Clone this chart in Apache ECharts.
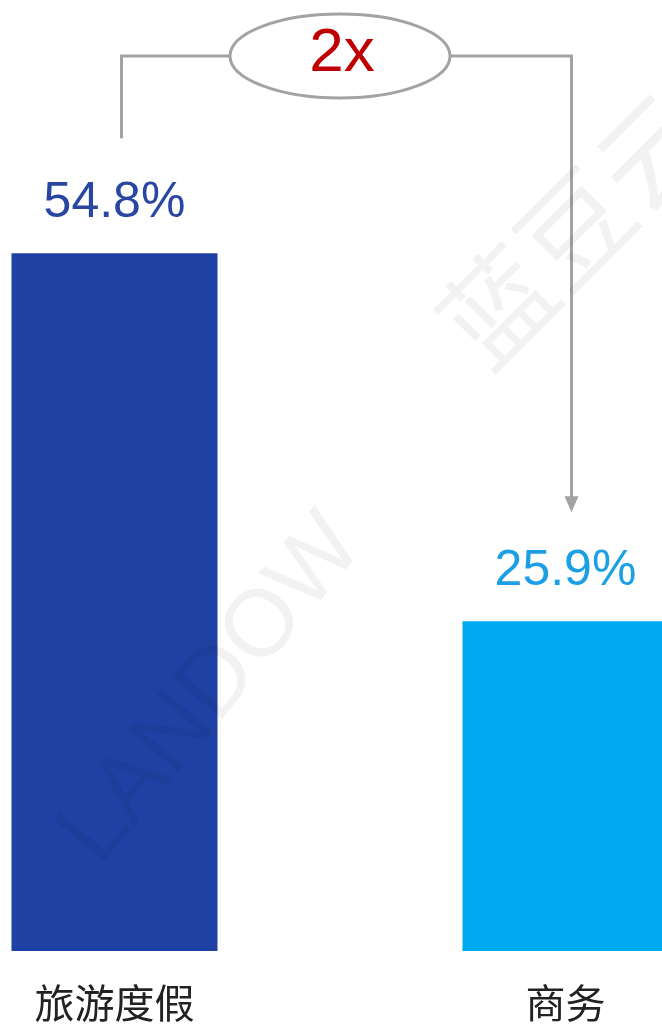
<!DOCTYPE html>
<html>
<head>
<meta charset="utf-8">
<script src="https://cdn.jsdelivr.net/npm/echarts@6/dist/echarts.min.js"></script>
<style>
  html, body { margin: 0; padding: 0; background: #fff; }
  #chart { width: 662px; height: 1026px; }
</style>
</head>
<body>
<div id="chart"></div>
<script>
const categories = ["旅游度假", "商务"];
const shares = [54.8, 25.9];
const barColors = ["#1e41a3", "#00aaf0"];
const labelColors = ["#2a46a3", "#1ba0e6"];
const ratioText = "2x";

const chart = echarts.init(document.getElementById("chart"));

const option = {
  backgroundColor: "#fff",
  animation: false,
  grid: { left: -111, right: -129, top: -4, bottom: 75, outerBoundsMode: "none", containLabel: false },
  xAxis: {
    type: "category",
    data: categories,
    axisLine: { show: false },
    axisTick: { show: false },
    axisLabel: {
      margin: 32,
      fontSize: 40,
      color: "#222",
      fontFamily: "Noto Sans CJK SC"
    }
  },
  yAxis: {
    type: "value",
    min: 0,
    max: 75,
    show: false,
    splitLine: { show: false }
  },
  series: [{
    type: "bar",
    barWidth: 206,
    data: shares.map((v, i) => ({
      value: v,
      itemStyle: { color: barColors[i] },
      label: { color: labelColors[i] }
    })),
    label: {
      show: true,
      position: "top",
      distance: 25,
      fontSize: 50,
      fontFamily: "Liberation Sans",
      formatter: (p) => p.value + "%"
    }
  }]
};

chart.setOption(option);

// bracket + ratio annotation, anchored on the bar positions
const p1 = chart.convertToPixel({ gridIndex: 0 }, [0, shares[0]]);
const p2 = chart.convertToPixel({ gridIndex: 0 }, [1, shares[1]]);
const lx = p1[0] + 7;
const rx = p2[0] + 6;
const topY = 56;
const cx = 340, ery = 42, erx = 110;
const lineStyle = { stroke: "#a3a3a3", lineWidth: 3, fill: null };
const wm = "rgba(0,0,0,0.05)";

chart.setOption({
  graphic: [
    { type: "polyline", z: 10,
      shape: { points: [[lx, p1[1] - 115], [lx, topY], [cx - erx, topY]] },
      style: lineStyle },
    { type: "polyline", z: 10,
      shape: { points: [[cx + erx, topY], [rx, topY], [rx, p2[1] - 122]] },
      style: lineStyle },
    { type: "polygon", z: 10,
      shape: { points: [[rx - 7, p2[1] - 125], [rx + 7, p2[1] - 125], [rx, p2[1] - 109]] },
      style: { fill: "#a3a3a3" } },
    { type: "ellipse", z: 10,
      shape: { cx: cx, cy: topY, rx: erx, ry: ery },
      style: { stroke: "#a3a3a3", lineWidth: 3, fill: "#fff" } },
    { type: "text", x: cx + 2, y: topY - 2, z: 11,
      style: { text: ratioText, fontSize: 62, fill: "#c00000", align: "center", verticalAlign: "middle", fontFamily: "Liberation Sans" } },
    // faint watermark
    { type: "text", x: 575, y: 228, rotation: Math.PI / 4, z: 20, silent: true,
      style: { text: "蓝豆云", fontSize: 110, fill: wm, align: "center", verticalAlign: "middle", fontFamily: "Noto Sans CJK SC" } },
    { type: "text", x: 212, y: 690, rotation: Math.PI * 0.28, z: 20, silent: true,
      style: { text: "LANDOW", fontSize: 95, fill: wm, align: "center", verticalAlign: "middle", fontFamily: "Liberation Sans" } }
  ]
});

window.addEventListener("resize", () => chart.resize());
</script>
</body>
</html>
